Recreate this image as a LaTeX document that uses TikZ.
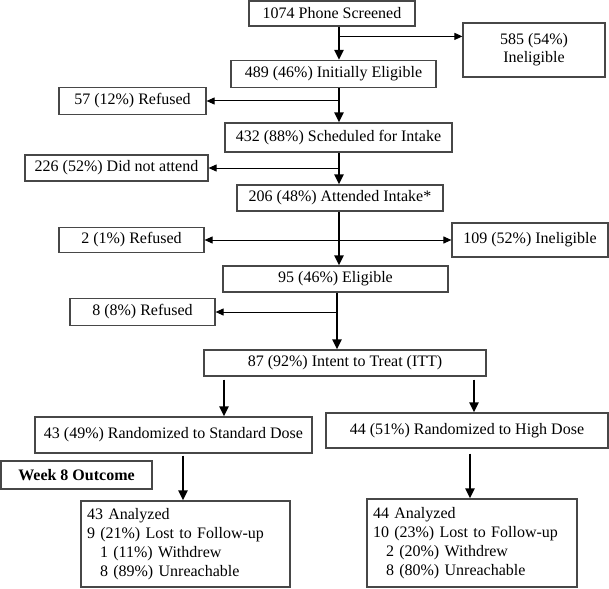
\documentclass[tikz,border=0pt]{standalone}
\usepackage{fontspec}
\setmainfont{Liberation Serif}
\usetikzlibrary{arrows.meta}
\begin{document}
\begin{tikzpicture}[x=1pt,y=-1pt,
  box/.style={draw=black!72, line width=1.2pt, inner sep=0pt, font=\fontsize{16}{18}\selectfont, align=center},
  wh/.style 2 args={minimum width=#1pt, minimum height=#2pt},
  listbox/.style={box, align=left, font=\fontsize{16}{19}\selectfont},
  main/.style={line width=2.8pt, -{Triangle[length=10pt,width=9pt]}},
  branch/.style={line width=1pt, -{Triangle[length=8pt,width=7pt]}}]
\useasboundingbox (0,0) rectangle (609,588);
% spine coordinates
\coordinate (sp1) at (339,0);
\coordinate (sp5) at (337,0);
\coordinate (sp6) at (224,0);
\coordinate (sp7) at (474,0);
\coordinate (sp8) at (183,0);
\coordinate (sp9) at (470,0);
% boxes
\node[box, wh={166}{25}] (b1) at (332,13.5) {1074 Phone Screened};
\node[box, wh={142}{54}] (b585) at (534,50) {585 (54\%)\\Ineligible};
\node[box, wh={205}{27}] (b2) at (333.5,74) {489 (46\%) Initially Eligible};
\node[box, wh={147}{27}] (r57) at (132.5,101) {57 (12\%) Refused};
\node[box, wh={227}{29}] (b3) at (338.5,137.5) {432 (88\%) Scheduled for Intake};
\node[box, wh={183}{26}] (d226) at (116.5,168) {226 (52\%) Did not attend};
\node[box, wh={206}{26}] (b4) at (340,198) {206 (48\%) Attended Intake*};
\node[box, wh={145}{25}] (r2) at (131.5,240) {2 (1\%) Refused};
\node[box, wh={156}{34}] (i109) at (530,240) {109 (52\%) Ineligible};
\node[box, wh={225}{26}] (b5) at (335.5,279) {95 (46\%) Eligible};
\node[box, wh={145}{27}] (r8) at (142.5,312) {8 (8\%) Refused};
\node[box, wh={282}{26}] (itt) at (345,363) {87 (92\%) Intent to Treat (ITT)};
\node[box, wh={277}{36}] (std) at (173.5,435) {43 (49\%) Randomized to Standard Dose};
\node[box, wh={282}{35}] (high) at (467,430.5) {44 (51\%) Randomized to High Dose};
\node[box, wh={151}{28}, font=\fontsize{16}{18}\selectfont\bfseries] (wk8) at (76.5,475) {Week 8 Outcome};
\node[listbox, wh={209}{86}, text width=197pt] (aL) at (185.5,544) {43 Analyzed\\9 (21\%) Lost to Follow-up\\\hspace*{13pt}1 (11\%) Withdrew\\\hspace*{13pt}8 (89\%) Unreachable};
\node[listbox, wh={210}{88}, text width=198pt] (aR) at (472,543) {44 Analyzed\\10 (23\%) Lost to Follow-up\\\hspace*{13pt}2 (20\%) Withdrew\\\hspace*{13pt}8 (80\%) Unreachable};
% branch end points
\coordinate (e585) at ([yshift=-14pt]b585.north west);
% main flow
\draw[main] (b1.south -| sp1) -- (b2.north -| sp1);
\draw[main] (b2.south -| sp1) -- (b3.north -| sp1);
\draw[main] (b3.south -| sp1) -- (b4.north -| sp1);
\draw[main] (b4.south -| sp1) -- (b5.north -| sp1);
\draw[main] (b5.south -| sp5) -- (itt.north -| sp5);
\draw[main] ([yshift=-3pt]itt.south -| sp6) -- (std.north -| sp6);
\draw[main] ([yshift=-3pt]itt.south -| sp7) -- (high.north -| sp7);
\draw[main] ([yshift=-2pt]std.south -| sp8) -- (aL.north -| sp8);
\draw[main] ([yshift=-5pt]high.south -| sp9) -- (aR.north -| sp9);
% branches
\draw[branch] (e585 -| sp1) -- (e585);
\draw[branch] (r57.east -| sp1) -- (r57.east);
\draw[branch] (d226.east -| sp1) -- (d226.east);
\draw[branch] (r2.east -| sp1) -- (r2.east);
\draw[branch] (i109.west -| sp1) -- (i109.west);
\draw[branch] (r8.east -| sp5) -- (r8.east);
\end{tikzpicture}
\end{document}
